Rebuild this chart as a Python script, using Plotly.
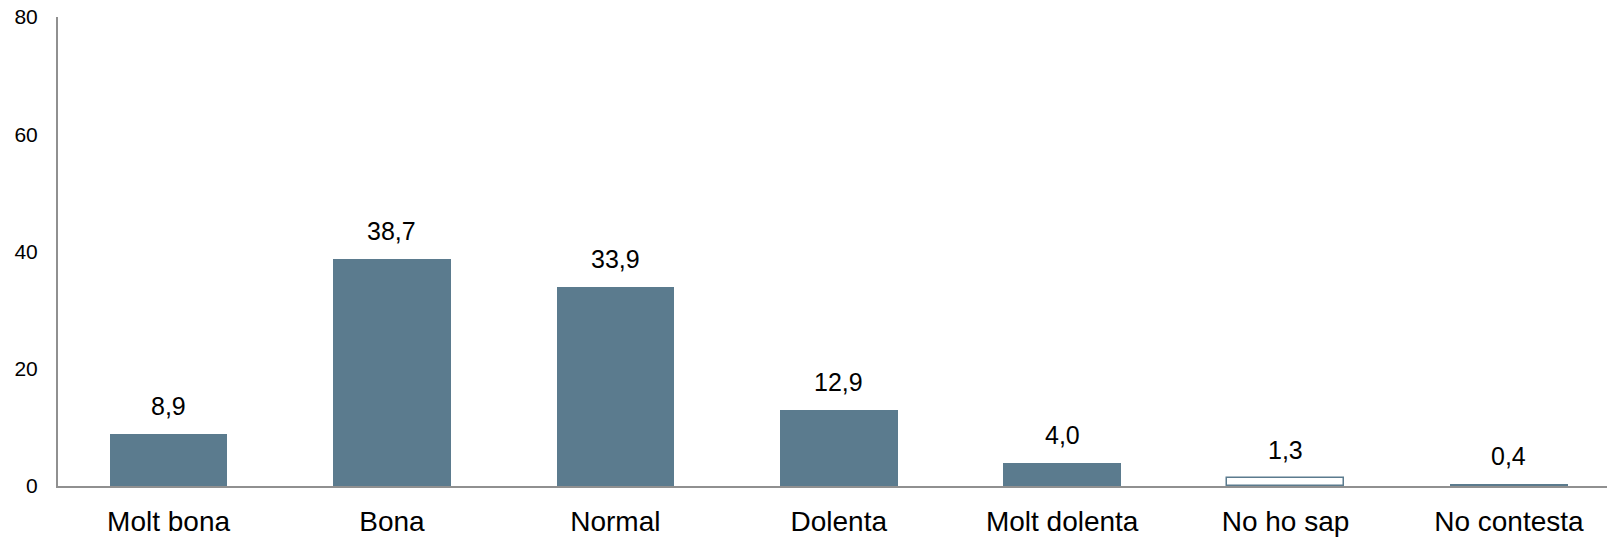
import plotly.graph_objects as go

categories = ["Molt bona", "Bona", "Normal", "Dolenta", "Molt dolenta", "No ho sap", "No contesta"]
values = [8.9, 38.7, 33.9, 12.9, 4.0, 1.3, 0.4]
labels = ["8,9", "38,7", "33,9", "12,9", "4,0", "1,3", "0,4"]
y_ticks = [0, 20, 40, 60, 80]

bar_color = "#5B7B8E"
fills = ["white" if c == "No ho sap" else bar_color for c in categories]
line_w = [1.5 if c == "No ho sap" else 0 for c in categories]

fig = go.Figure()
fig.add_trace(go.Bar(
    x=categories, y=values, width=0.526,
    marker=dict(color=fills, line=dict(color=bar_color, width=line_w)),
    hoverinfo="skip",
))

for c, v, t in zip(categories, values, labels):
    fig.add_annotation(x=c, y=v, text=t, showarrow=False, yanchor="bottom",
                       yshift=12, font=dict(family="Liberation Sans, Arial", size=25, color="#000000"))

fig.update_layout(
    width=1607, height=537,
    margin=dict(l=58, r=0, t=17, b=51),
    paper_bgcolor="white", plot_bgcolor="white",
    showlegend=False,
    bargap=0,
    font=dict(family="Liberation Sans, Arial", color="#000000"),
)
fig.update_xaxes(
    range=[-0.495, 6.439], showgrid=False, showline=True, linecolor="#909090", linewidth=2,
    ticks="", tickfont=dict(size=28, color="#000000"), ticklabelstandoff=9,
)
fig.update_yaxes(
    range=[0, 80], tickvals=y_ticks, showgrid=False, zeroline=False, showline=True,
    linecolor="#909090", linewidth=2, ticks="", tickfont=dict(size=21, color="#000000"),
    ticklabelstandoff=14,
)

fig.write_html("out.html", config={"displayModeBar": False},
               post_script="document.body.style.margin='0px';document.body.style.overflow='hidden';")
